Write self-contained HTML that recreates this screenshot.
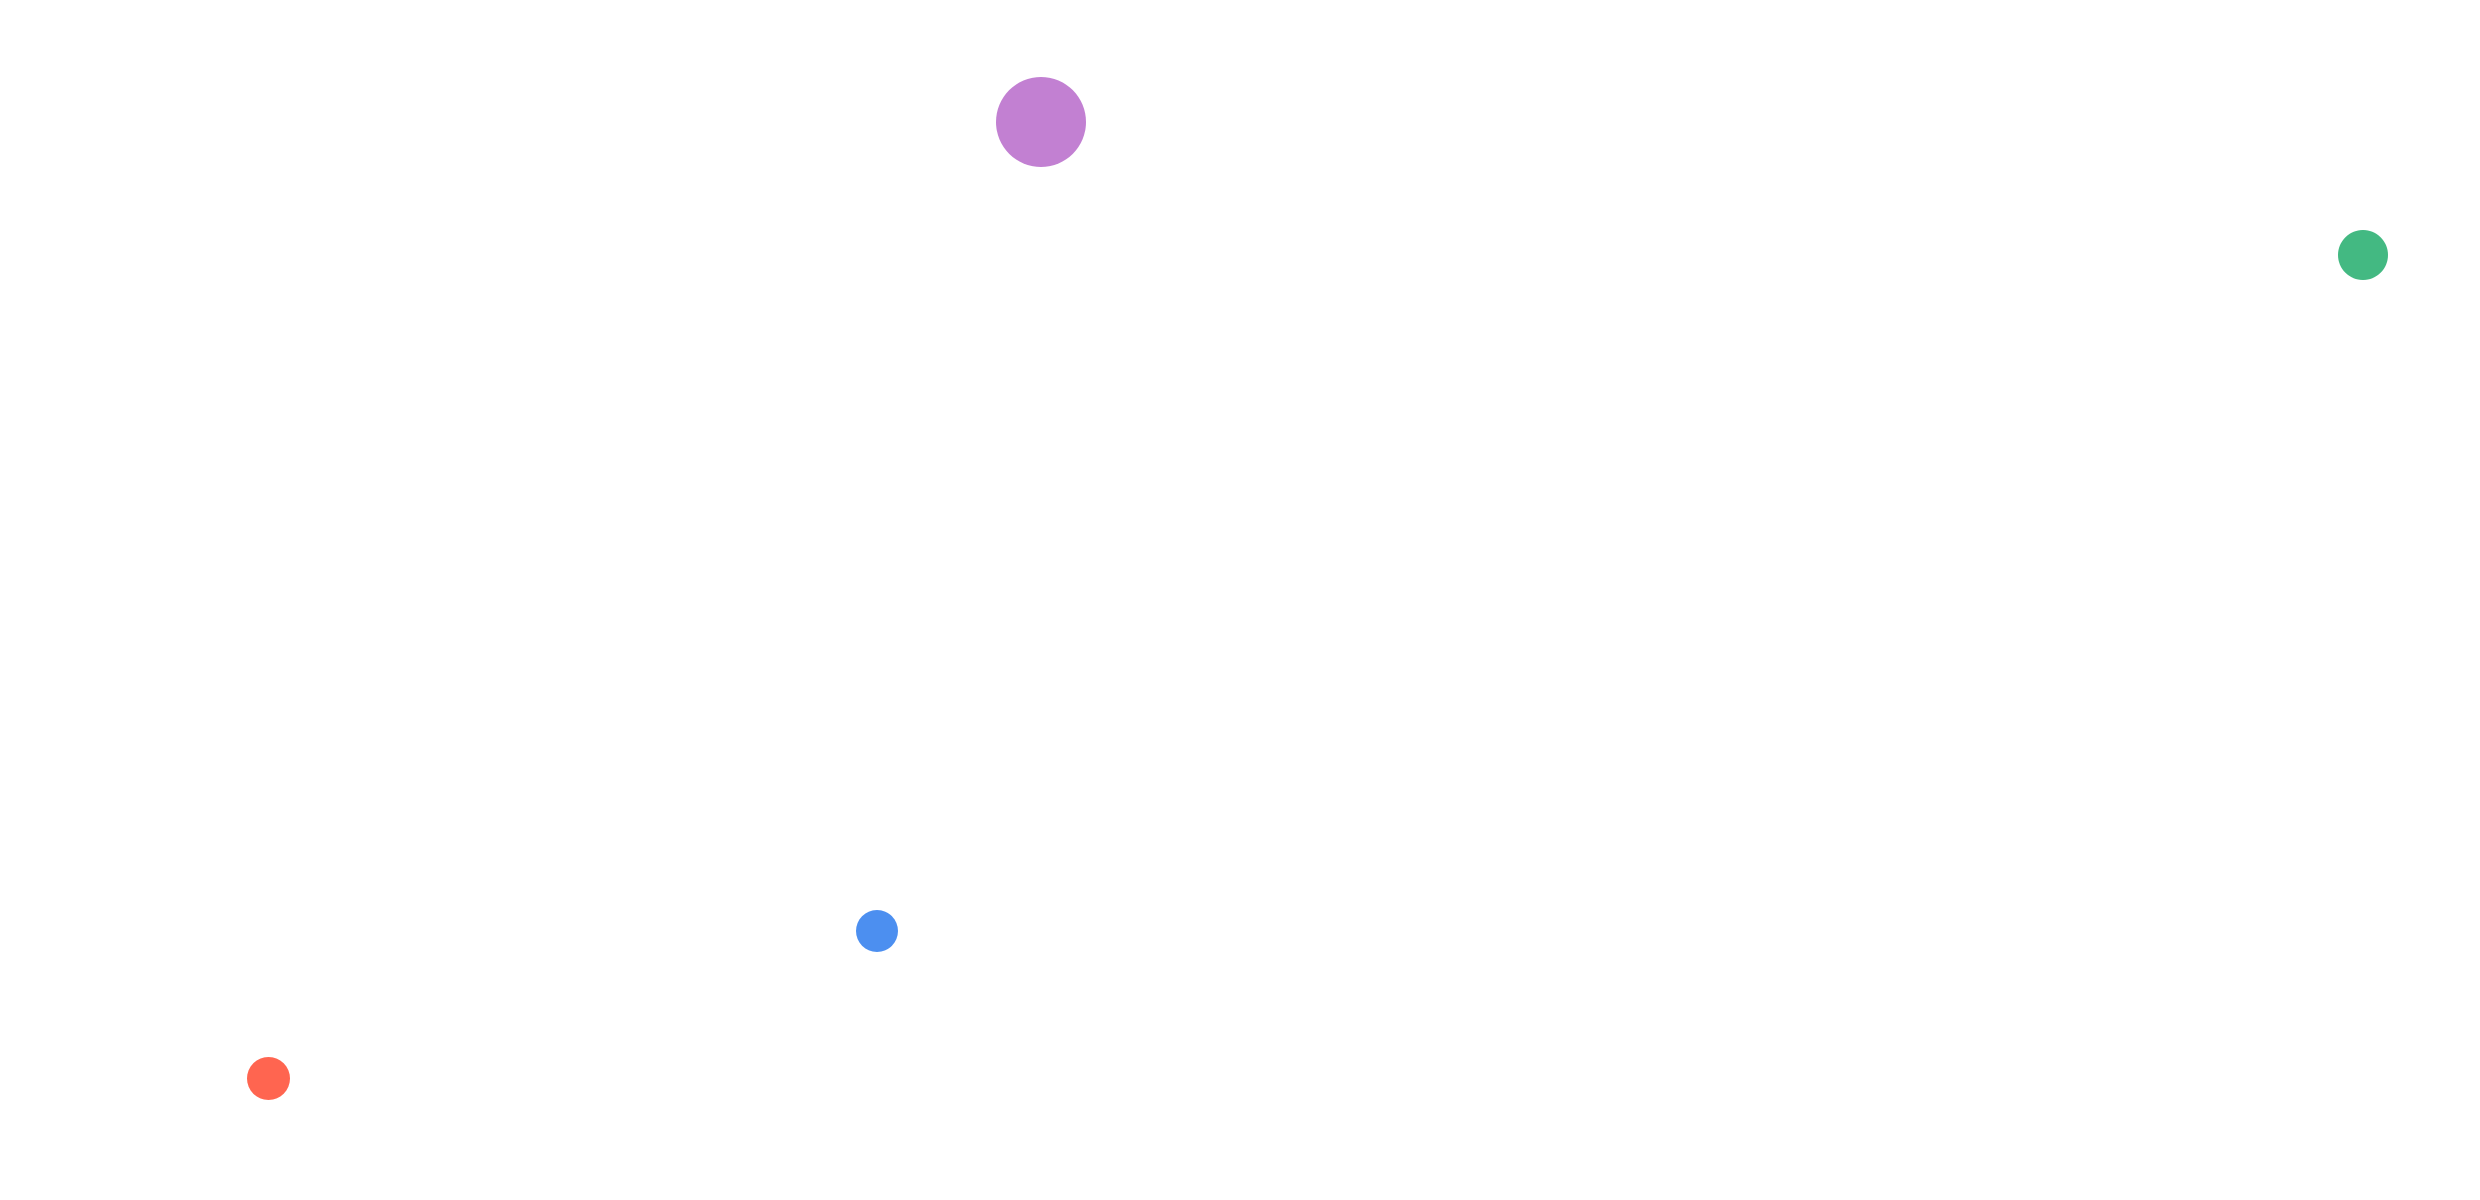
<!DOCTYPE html>
<html><head><meta charset="utf-8"><style>html,body{margin:0;padding:0;background:#fff;width:2480px;height:1200px;overflow:hidden}</style></head>
<body>
<svg width="2480" height="1200" xmlns="http://www.w3.org/2000/svg">
<rect width="2480" height="1200" fill="#fff"/>
<circle cx="1041" cy="122" r="45" fill="#c280d2"/>
<circle cx="2363" cy="255" r="25" fill="#43b982"/>
<circle cx="877" cy="931" r="21" fill="#4c8ff0"/>
<circle cx="268.5" cy="1078.5" r="21.5" fill="#ff6550"/>
</svg>
</body></html>
